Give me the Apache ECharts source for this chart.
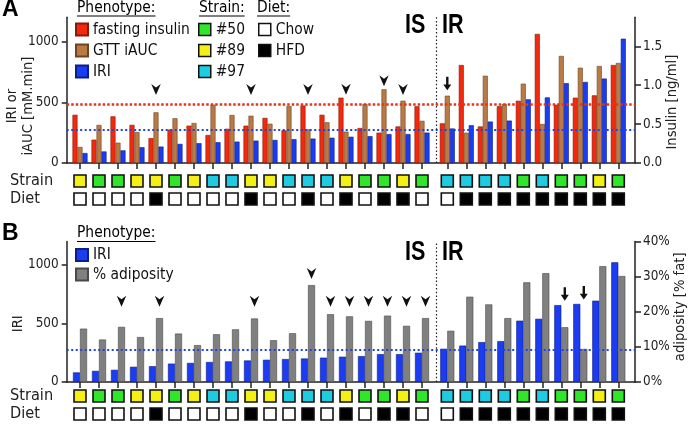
<!DOCTYPE html>
<html><head><meta charset="utf-8">
<script src="https://cdn.jsdelivr.net/npm/echarts@6/dist/echarts.min.js"></script>
<style>html,body{margin:0;padding:0;background:#fff}#c{width:693px;height:427px}</style>
</head><body><div id="c"></div>
<script>
// ---------------- data ----------------
const groupsIS = ['1','2','3','4','5','6','7','8','9','10','11','12','13','14','15','16','17','18','19'];
const groupsIR = ['20','21','22','23','24','25','26','27','28','29'];
const insulinIS = [0.62,0.30,0.60,0.49,0.32,0.43,0.48,0.36,0.44,0.48,0.58,0.42,0.74,0.62,0.84,0.45,0.39,0.47,0.73];
const insulinIR = [0.51,1.26,0.47,0.73,0.80,1.66,0.75,0.84,0.87,1.26];
const iaucIS = [132,313,167,255,417,368,329,480,395,389,323,469,277,335,258,486,607,513,347];
const iaucIR = [554,249,718,486,653,321,881,784,798,823];
const iriIS = [82,95,104,130,135,157,163,171,176,184,190,196,201,208,216,221,238,238,250];
const iriIR = [284,311,341,349,524,540,657,667,695,1023];
const adiposityIS = [15.2,12.1,15.7,12.8,18.2,13.8,10.5,13.6,15.0,18.1,11.9,13.9,27.6,19.3,18.7,17.4,18.9,16.0,18.2];
const adiposityIR = [14.6,24.3,22.1,18.2,28.4,31.0,15.6,9.4,33.0,30.2];
const strainIS = ['#89','#50','#50','#89','#89','#50','#89','#97','#97','#89','#89','#97','#97','#97','#89','#50','#50','#89','#50'];
const strainIR = ['#97','#97','#97','#97','#50','#97','#50','#50','#89','#50'];
const dietIS = ['Chow','Chow','Chow','Chow','HFD','Chow','Chow','Chow','Chow','HFD','Chow','Chow','HFD','Chow','HFD','Chow','HFD','HFD','Chow'];
const dietIR = ['Chow','HFD','HFD','HFD','HFD','HFD','HFD','HFD','HFD','HFD'];
// marked groups (1-based position within IS / IR block)
const arrowsA_IS = [5,10,13,15,17,18];
const arrowsA_IR = [1];
const arrowsB_IS = [3,5,10,13,14,15,16,17,18,19];
const arrowsB_IR = [7,8];
const thresholdIRI = 272;
const thresholdInsulin = 0.75;
const leftTicks = [0,500,1000];
const insulinTicks = [0,0.5,1.0,1.5];
const adiposityTicks = [0,10,20,30,40];
const rowLabels = ['Strain','Diet'];
const strains = ['#50','#89','#97'];
const diets = ['Chow','HFD'];

// ---------------- font selection ----------------
const ctx = document.createElement('canvas').getContext('2d');
const tw = (t,f)=>{ctx.font=f;return ctx.measureText(t).width;};
function hasFont(f){
  const s='fasting insulin 0123456789 WMil';
  return tw(s,`40px '${f}',monospace`)===tw(s,`40px '${f}',serif`);
}
const cands = ['Liberation Sans Narrow','Arial Narrow','DejaVu Sans Condensed','Roboto Condensed','Liberation Sans','Roboto'];
const FAM = cands.find(hasFont) || 'sans-serif';
const FONT = `'${FAM}',sans-serif`;
// width-match: "fasting insulin" is ~95px wide in the reference at 19px condensed type
const K = Math.min(1, 97/tw('fasting insulin', `19px ${FONT}`));
const fs = s => Math.round(s*K*10)/10;
const FONTW = "'Liberation Sans',Arial,sans-serif";

// ---------------- style / layout ----------------
const INK = '#222';
const C = {red:'#f3290e', brown:'#b97a45', blue:'#1b3cf0', gray:'#808080'};
const strainColor = {'#50':'#31e52b','#89':'#f4ef14','#97':'#1fcbe0'};
const dietColor = {'Chow':'#ffffff','HFD':'#000000'};
const leftMax = 1200, insulinMax = 1.875, adiposityMax = 40;
const X0 = 66.7, X1 = 635, slot = 19;
const isLeft = 70.5, isW = slot*groupsIS.length, irLeft = 437.8, irW = slot*groupsIR.length;
const rowH = 36;
const divFrac = ((isLeft+isW+irLeft)/2 - X0)/(X1-X0);

const grid=[], xAxis=[], yAxis=[], series=[];
const addG=g=>{grid.push(Object.assign({outerBoundsMode:'none'},g));return grid.length-1;};
const addX=a=>{xAxis.push(a);return xAxis.length-1;};
const addY=a=>{yAxis.push(a);return yAxis.length-1;};
const axisLS = {color:INK,width:1.5};

function buildPanel(P){
  const h = P.bottom-P.top;
  const fg = addG({left:X0, top:P.top, width:X1-X0, height:h});
  const fx = addX({type:'value', gridIndex:fg, min:0, max:1, axisLine:{show:true,onZero:false,lineStyle:axisLS}, axisTick:{show:false}, axisLabel:{show:false}, splitLine:{show:false}});
  const fyL = addY({type:'value', gridIndex:fg, position:'left', min:0, max:leftMax,
    axisLine:{show:true,onZero:false,lineStyle:axisLS}, axisTick:{show:true,length:5,customValues:leftTicks,lineStyle:axisLS},
    axisLabel:{customValues:leftTicks, fontFamily:FONT, fontSize:fs(16.5), color:INK, margin:8, formatter:v=>String(v)}, splitLine:{show:false},
    name:P.leftName, nameLocation:'middle', nameGap:P.leftGap, nameMoveOverlap:false,
    nameTextStyle:{fontFamily:FONT, fontSize:fs(P.leftNameSize), lineHeight:15.5, color:INK, padding:P.leftPad}});
  const fyR = addY({type:'value', gridIndex:fg, position:'right', min:0, max:P.rightMax,
    axisLine:{show:true,onZero:false,lineStyle:axisLS}, axisTick:{show:true,length:6,customValues:P.rightTicks,lineStyle:axisLS},
    axisLabel:{customValues:P.rightTicks, fontFamily:FONT, fontSize:fs(16.5), color:INK, margin:8, formatter:P.rightFmt}, splitLine:{show:false},
    name:P.rightName, nameLocation:'middle', nameGap:P.rightGap, nameRotate:90, nameMoveOverlap:false,
    nameTextStyle:{fontFamily:FONT, fontSize:fs(18), color:INK, padding:P.rightPad}});
  series.push({type:'line', xAxisIndex:fx, yAxisIndex:fyL, data:[], z:10, silent:true,
    markLine:{symbol:'none', silent:true, animation:false, label:{show:false},
      data:[{yAxis:thresholdIRI, lineStyle:{color:'#2040e8', type:[2,2.5], width:2}},
            {xAxis:divFrac, lineStyle:{color:'#222', type:[1.5,2.2], width:1.2}}]}});
  if (P.rightThreshold!=null) series.push({type:'line', xAxisIndex:fx, yAxisIndex:fyR, data:[], z:10, silent:true,
    markLine:{symbol:'none', silent:true, animation:false, label:{show:false},
      data:[{yAxis:P.rightThreshold, lineStyle:{color:'#e8321c', type:[2.5,2], width:2.5}}]}});

  [['IS',isLeft,isW,groupsIS],['IR',irLeft,irW,groupsIR]].forEach(([part,left,w,groups])=>{
    const g = addG({left, top:P.top, width:w, height:h});
    const x = addX({type:'category', gridIndex:g, data:groups, axisLine:{show:false,onZero:false},
      axisTick:{show:true, alignWithLabel:true, interval:0, length:6, lineStyle:axisLS}, axisLabel:{show:false}, splitLine:{show:false}});
    const yL = addY({type:'value', gridIndex:g, min:0, max:leftMax, show:false});
    const yR = addY({type:'value', gridIndex:g, min:0, max:P.rightMax, show:false});
    P.bars.forEach(b=>{
      series.push({name:b.name, type:'bar', xAxisIndex:x, yAxisIndex:b.right?yR:yL, data:b[part],
        barGap:'0%', barCategoryGap:P.catGap, itemStyle:{color:b.color, borderColor:b.border, borderWidth:0.6}, silent:true});
    });
    const marks = P.arrows[part];
    const conv = i => Math.max(...P.bars.map(b=> b.right ? b[part][i]*leftMax/P.rightMax : b[part][i]));
    series.push({type:'scatter', xAxisIndex:x, yAxisIndex:yL, silent:true, z:6,
      symbol: part==='IS' ? 'path://M0,0 L5,3.5 L10,0 L5,11 Z' : 'path://M3.5,0 L6.5,0 L6.5,8 L10,8 L5,14 L0,8 L3.5,8 Z',
      symbolSize: part==='IS' ? [9.5,11] : [8,13.5],
      symbolOffset:[P.arrowShift,0],
      itemStyle:{color:'#111', opacity:1},
      data: marks.map(k=>[groups[k-1], part==='IS' ? Math.max(P.arrowFloor, conv(k-1)+P.arrowPad) : conv(k-1)+P.downPad])});
    const rg = addG({left, top:P.rowTop, width:w, height:rowH});
    const rx = addX({type:'category', gridIndex:rg, data:groups, show:false});
    const ry = addY({type:'category', gridIndex:rg, data:rowLabels, inverse:true, show: part==='IS',
      axisLine:{show:false}, axisTick:{show:false}, splitLine:{show:false},
      axisLabel:{show:true, interval:0, align:'left', margin:left-10, fontFamily:FONT, fontSize:fs(20), color:INK}});
    const strainArr = part==='IS'?strainIS:strainIR, dietArr = part==='IS'?dietIS:dietIR;
    strains.forEach(s=>series.push({name:s, type:'scatter', xAxisIndex:rx, yAxisIndex:ry, symbol:'rect', symbolSize:12, silent:true,
      itemStyle:{color:strainColor[s], borderColor:'#111', borderWidth:1.6, opacity:1},
      data: groups.map((gname,i)=>strainArr[i]===s?[gname,'Strain']:null).filter(Boolean)}));
    diets.forEach(d=>series.push({name:d, type:'scatter', xAxisIndex:rx, yAxisIndex:ry, symbol:'rect', symbolSize:12, silent:true,
      itemStyle:{color:dietColor[d], borderColor:'#111', borderWidth:1.6, opacity:1},
      data: groups.map((gname,i)=>dietArr[i]===d?[gname,'Diet']:null).filter(Boolean)}));
  });
}

buildPanel({top:17.2, bottom:163, rowTop:172, rightMax:insulinMax, rightTicks:insulinTicks, rightFmt:v=>v.toFixed(1),
  leftName:'IRI or\niAUC [mM.min]', leftNameSize:18, leftGap:31, leftPad:[0,32,0,0], rightName:'Insulin [ng/ml]', rightGap:30, rightPad:[0,24,0,0],
  rightThreshold:thresholdInsulin, catGap:'21%', arrowShift:0, arrowFloor:605, arrowPad:70, downPad:100,
  arrows:{IS:arrowsA_IS, IR:arrowsA_IR},
  bars:[{name:'fasting insulin', right:true, IS:insulinIS, IR:insulinIR, color:C.red, border:'#8a1a08'},
        {name:'GTT iAUC', IS:iaucIS, IR:iaucIR, color:C.brown, border:'#6e4522'},
        {name:'IRI', IS:iriIS, IR:iriIR, color:C.blue, border:'#0b1f8a'}]});
buildPanel({top:241.6, bottom:382, rowTop:387, rightMax:adiposityMax, rightTicks:adiposityTicks, rightFmt:v=>v+'%',
  leftName:'IRI', leftNameSize:18, leftGap:41, leftPad:[0,24,0,0], rightName:'adiposity [% fat]', rightGap:38, rightPad:[0,0,0,10],
  rightThreshold:null, catGap:'26%', arrowShift:3.5, arrowFloor:690, arrowPad:100, downPad:96,
  arrows:{IS:arrowsB_IS, IR:arrowsB_IR},
  bars:[{name:'IRI', IS:iriIS, IR:iriIR, color:C.blue, border:'#0b1f8a'},
        {name:'% adiposity', right:true, IS:adiposityIS, IR:adiposityIR, color:C.gray, border:'#4a4a4a'}]});

// ---------------- text decorations ----------------
const LF = `${fs(19)}px ${FONT}`;
const BF = "bold 28px 'Liberation Sans',Arial,sans-serif";
const txt = (text,x,y,font,sx)=>({type:'text', x, y, scaleX:sx||1, silent:true, style:{text, font, fill:'#000', align:'left', verticalAlign:'middle', textAlign:'left', textVerticalAlign:'middle'}});
const uline = (text,x,y)=>({type:'line', silent:true, shape:{x1:x,y1:y,x2:x+tw(text,LF),y2:y}, style:{stroke:'#000', lineWidth:1.2}});
const graphic = [
  txt('A',2,10,"bold 23px "+FONTW), txt('B',2,234,"bold 23px "+FONTW),
  txt('IS',405,25,BF,0.77), txt('IR',442,25,BF,0.77), txt('IS',405,252.5,BF,0.77), txt('IR',442,252.5,BF,0.77),
  txt('Phenotype:',77,8,LF), uline('Phenotype:',77,16),
  txt('Strain:',199,8,LF), uline('Strain:',199,16),
  txt('Diet:',257,8,LF), uline('Diet:',257,16),
  txt('Phenotype:',77,233,LF), uline('Phenotype:',77,241.5)
];
const legTS = {fontFamily:FONT, fontSize:fs(19), lineHeight:19, color:'#111'};
const legBase = {orient:'vertical', icon:'rect', itemWidth:12, itemHeight:12, itemGap:2, padding:0, selectedMode:false, textStyle:legTS};
const legend = [
  Object.assign({}, legBase, {left:75, top:20, data:['fasting insulin','GTT iAUC','IRI']}),
  Object.assign({}, legBase, {left:198, top:20, data:strains, itemStyle:{borderColor:'#111',borderWidth:1.5}}),
  Object.assign({}, legBase, {left:258, top:20, data:diets, itemStyle:{borderColor:'#111',borderWidth:1.5}}),
  Object.assign({}, legBase, {left:75, top:245.5, itemGap:0.5, data:['IRI','% adiposity']})
];

const chart = echarts.init(document.getElementById('c'), null, {renderer:'canvas'});
chart.setOption({animation:false, backgroundColor:'#fff', textStyle:{fontFamily:FONT}, grid, xAxis, yAxis, series, legend, graphic});
</script></body></html>
